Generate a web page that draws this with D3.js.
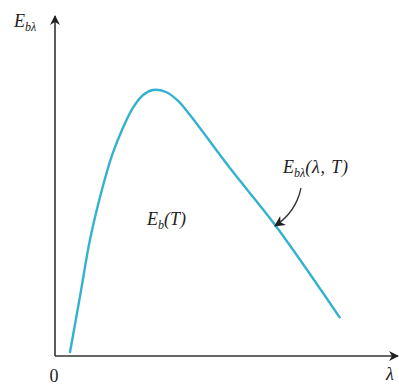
<!DOCTYPE html>
<html>
<head>
<meta charset="utf-8">
<script src="https://cdn.jsdelivr.net/npm/d3@7"></script>
<style>
  html, body { margin: 0; padding: 0; background: #fff; }
  svg { display: block; }
  svg text { font-family: "Liberation Serif", serif; }
</style>
</head>
<body>
<svg id="chart" width="399" height="385"></svg>
<script>
// Spectral emissive power curve at a fixed temperature (arbitrary units)
const wavelength = [0.45, 0.76, 1.06, 1.42, 1.73, 2.03, 2.36, 2.67, 2.97, 3.36, 3.73, 4.09, 5.39, 6.67, 8.64];
const emissivePower = [0.09, 1.82, 3.52, 5.03, 6.09, 6.85, 7.52, 7.91, 8.06, 8.00, 7.73, 7.30, 5.58, 3.97, 1.15];
const axisLabels = { y: "E", ySub: "bλ", x: "λ", origin: "0" };

const svg = d3.select("#chart");
const x = d3.scaleLinear().domain([0, 10]).range([55, 385]);
const y = d3.scaleLinear().domain([0, 10]).range([356, 26]);

// Arrow markers
const defs = svg.append("defs");
function arrowMarker(id, size) {
  defs.append("marker")
    .attr("id", id)
    .attr("viewBox", "0 0 10 10")
    .attr("refX", 9).attr("refY", 5)
    .attr("markerWidth", size).attr("markerHeight", size)
    .attr("markerUnits", "userSpaceOnUse")
    .attr("orient", "auto")
    .append("path")
    .attr("d", "M0,0 L10,5 L0,10 L3,5 Z")
    .attr("fill", "#222");
}
arrowMarker("axisArrow", 10);
arrowMarker("pointer", 11);

// Axes
svg.append("line")
  .attr("x1", x(0)).attr("y1", y(0))
  .attr("x2", 398).attr("y2", y(0))
  .attr("stroke", "#333").attr("stroke-width", 1.6)
  .attr("marker-end", "url(#axisArrow)");
svg.append("line")
  .attr("x1", x(0)).attr("y1", y(0))
  .attr("x2", x(0)).attr("y2", 16)
  .attr("stroke", "#333").attr("stroke-width", 1.6)
  .attr("marker-end", "url(#axisArrow)");

// Curve
const line = d3.line()
  .x((d, i) => x(wavelength[i]))
  .y((d, i) => y(emissivePower[i]))
  .curve(d3.curveCatmullRom.alpha(0.5));
svg.append("path")
  .datum(emissivePower)
  .attr("d", line)
  .attr("fill", "none")
  .attr("stroke", "#33b2cf")
  .attr("stroke-width", 2.4)
  .attr("stroke-linejoin", "round");

function label(xp, yp, anchor, italic) {
  return svg.append("text")
    .attr("x", xp).attr("y", yp)
    .attr("text-anchor", anchor)
    .attr("font-size", 18)
    .attr("font-style", italic ? "italic" : "normal")
    .attr("fill", "#222");
}

// Axis labels
const yl = label(14, 27, "start", true);
yl.append("tspan").text(axisLabels.y);
yl.append("tspan").attr("font-size", 12).attr("dy", 4).text(axisLabels.ySub);

label(54, 382, "middle", false).text(axisLabels.origin);
label(386, 380, "start", true).text(axisLabels.x);

// Area label
const area = label(147, 225, "start", true);
area.append("tspan").text("E");
area.append("tspan").attr("font-size", 12).attr("dy", 4).text("b");
area.append("tspan").attr("dy", -4).text("(T)");

// Curve label with pointer
const cl = label(283, 173, "start", true);
cl.append("tspan").text("E");
cl.append("tspan").attr("font-size", 12).attr("dy", 4).text("bλ");
cl.append("tspan").attr("dy", -4).attr("letter-spacing", 0.8).text("(λ, T)");

svg.append("path")
  .attr("d", "M301,188 Q296,212 275,226")
  .attr("fill", "none")
  .attr("stroke", "#333").attr("stroke-width", 1.3)
  .attr("marker-end", "url(#pointer)");
</script>
</body>
</html>
